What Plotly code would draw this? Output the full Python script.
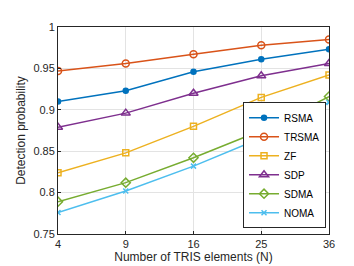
import plotly.graph_objects as go

n_elements = ["4", "9", "16", "25", "36"]
rsma = [0.910, 0.923, 0.946, 0.961, 0.973]
trsma = [0.947, 0.956, 0.967, 0.978, 0.985]
zf = [0.824, 0.848, 0.880, 0.915, 0.942]
sdp = [0.879, 0.896, 0.920, 0.941, 0.956]
sdma = [0.789, 0.812, 0.842, 0.875, 0.916]
noma = [0.776, 0.802, 0.832, 0.866, 0.909]
y_ticks = [0.75, 0.8, 0.85, 0.9, 0.95, 1]
y_ticktext = ["0.75", "0.8", "0.85", "0.9", "0.95", "1"]

series = [
    ("RSMA", rsma, "#0072BD", "circle", 5),
    ("TRSMA", trsma, "#D95319", "circle-open", 7),
    ("ZF", zf, "#EDB120", "square-open", 6),
    ("SDP", sdp, "#7E2F8E", "triangle-up-open", 8),
    ("SDMA", sdma, "#77AC30", "diamond-open", 7),
    ("NOMA", noma, "#4DBEEE", "x-thin-open", 5),
]

fig = go.Figure()
for name, vals, color, sym, size in series:
    fig.add_trace(go.Scatter(
        x=n_elements, y=vals, name=name, mode="lines+markers",
        line=dict(color=color, width=1.5),
        marker=dict(symbol=sym, size=size, color=color,
                    line=dict(color=color, width=1.5)),
    ))

axis_common = dict(
    showline=True, linecolor="#262626", linewidth=1, mirror=True,
    showgrid=True, gridcolor="#e3e3e3", gridwidth=1,
    ticks="inside", ticklen=3, tickcolor="#262626",
    tickfont=dict(family="Liberation Sans, Arial", size=11, color="#262626"),
    zeroline=False,
)

fig.update_layout(
    width=354, height=266,
    margin=dict(l=46, r=33, t=19, b=33),
    paper_bgcolor="white", plot_bgcolor="white",
    font=dict(family="Liberation Sans, Arial", size=11, color="#262626"),
    xaxis=dict(type="category", range=[0, 4],
               title=dict(text="Number of TRIS elements (N)", standoff=3,
                          font=dict(size=12, color="#262626")),
               **axis_common),
    yaxis=dict(range=[0.75, 1], tickvals=y_ticks, ticktext=y_ticktext,
               title=dict(text="Detection probability", standoff=5,
                          font=dict(size=12, color="#262626")),
               **axis_common),
    legend=dict(x=0.989, y=0.028, xanchor="right", yanchor="bottom",
                bgcolor="white", bordercolor="#262626", borderwidth=1,
                font=dict(size=10, color="#000000"),
                tracegroupgap=0, itemwidth=30),
    showlegend=True,
)

fig.write_html("out.html")
